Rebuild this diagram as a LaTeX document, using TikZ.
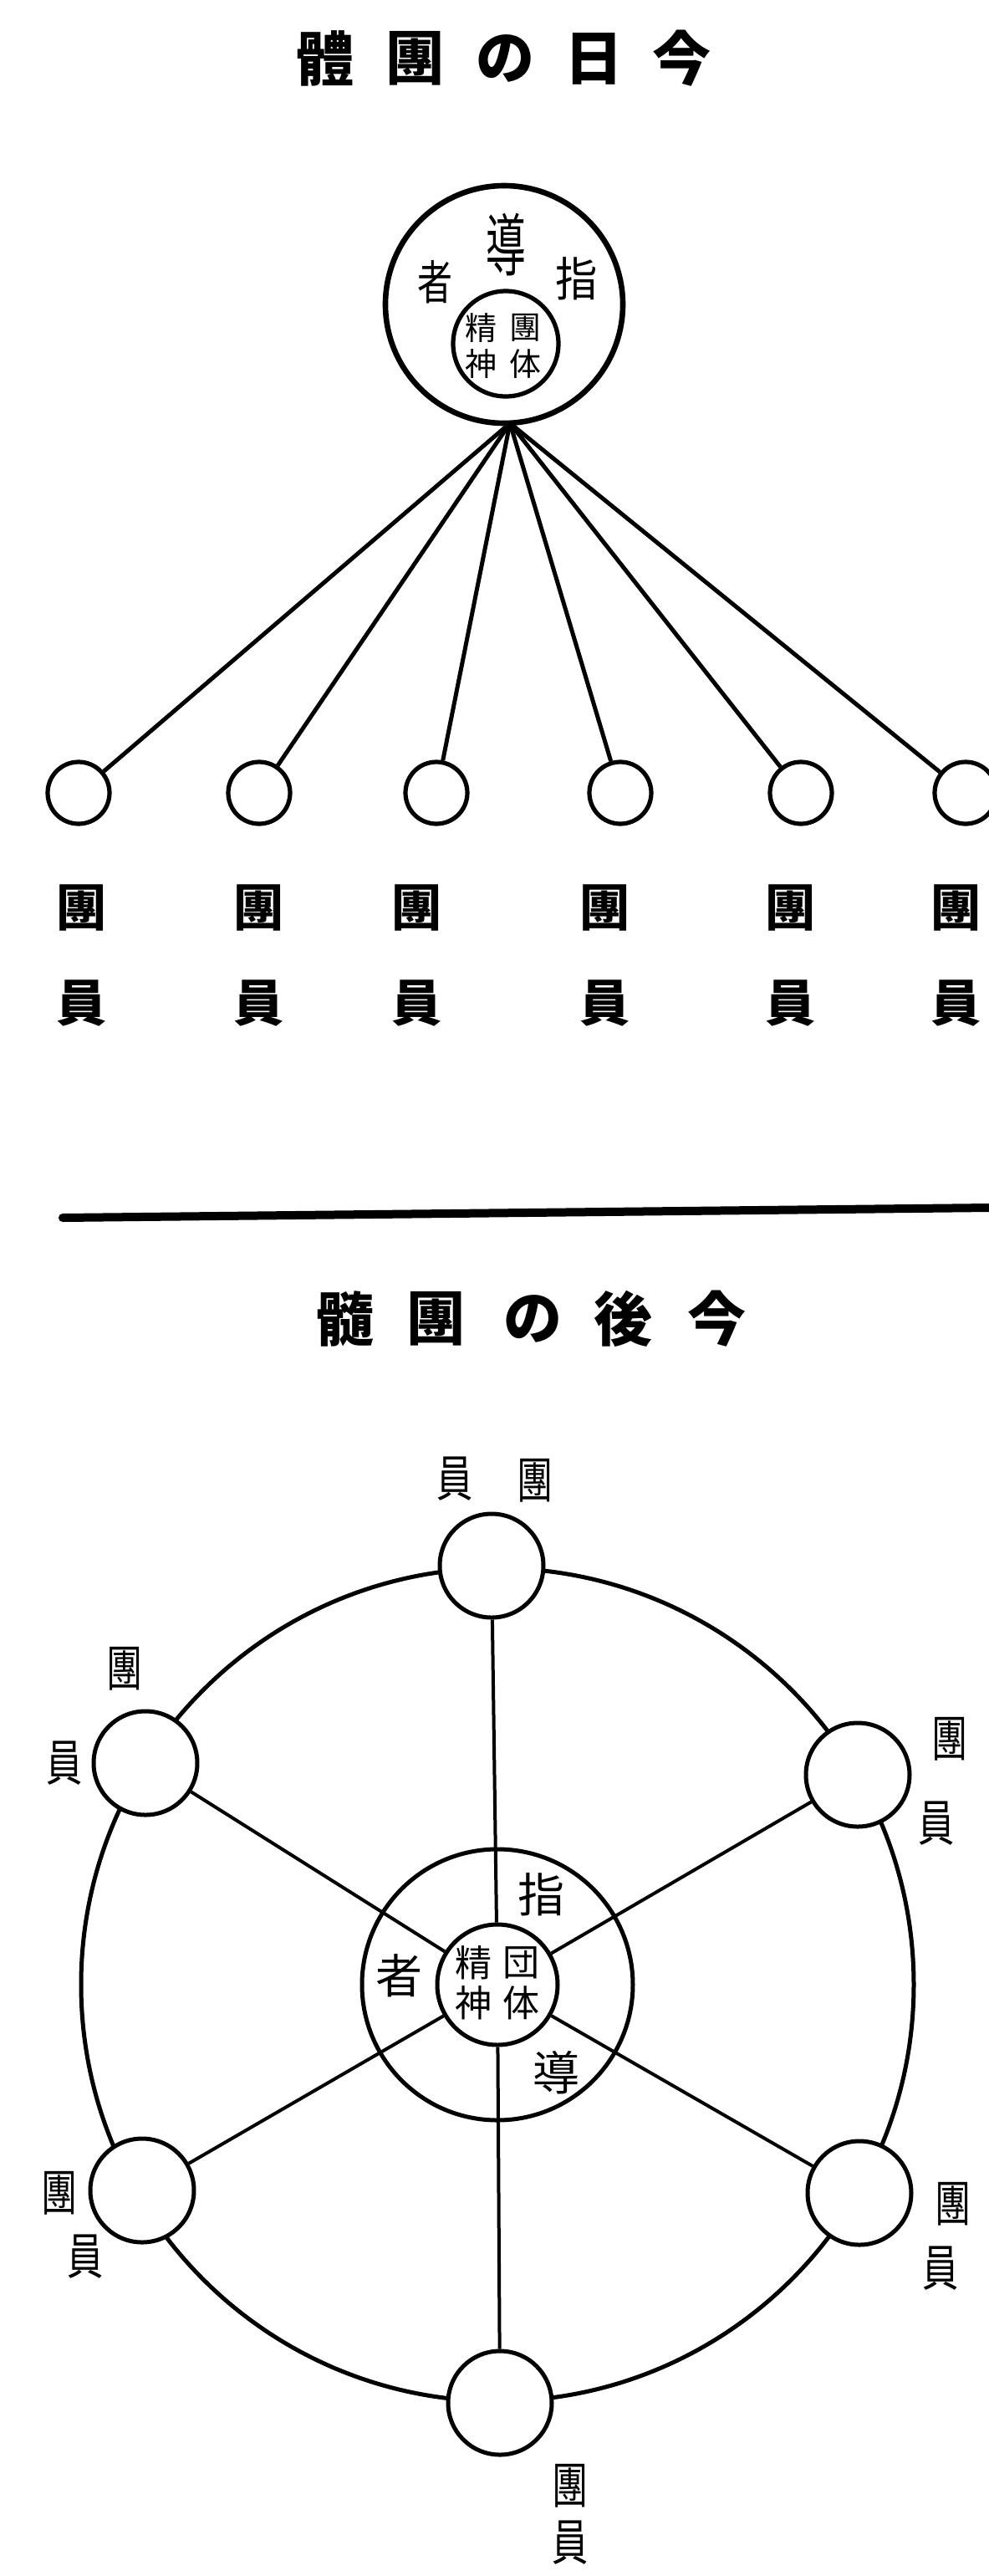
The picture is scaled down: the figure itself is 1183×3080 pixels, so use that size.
\documentclass[tikz,border=0pt]{standalone}
\usepackage{fontspec}
\newfontfamily\jp{Noto Sans CJK JP}
\newcommand{\nar}[1]{\scalebox{0.8}[1.1]{#1}}
\begin{document}
\begin{tikzpicture}[x=0.5pt,y=-0.5pt,
  ttl/.style={font=\jp\bfseries\fontsize{35}{35}\selectfont, inner sep=0},
  lab/.style={font=\jp\bfseries\fontsize{30}{30}\selectfont, inner sep=0},
  hand/.style={font=\jp\fontsize{28}{28}\selectfont, inner sep=0},
  tiny/.style={font=\jp\fontsize{19}{19}\selectfont, inner sep=0},
  small/.style={font=\jp\fontsize{22}{22}\selectfont, inner sep=0},
  mlab/.style={font=\jp\fontsize{27}{27}\selectfont, inner sep=0},
  member/.style={circle, draw, line width=2.6pt, minimum size=37pt, inner sep=0},
  bignode/.style={circle, draw, line width=2.5pt, minimum size=62pt, inner sep=0, fill=white},
  ln/.style={line width=2.5pt},
  thin/.style={line width=2pt}]
\fill[white] (0,0) rectangle (1183,3080);
\useasboundingbox (0,0) rectangle (1183,3080);

% ---------- top title ----------
\node[ttl] (t1a) at (388,70) {體};
\node[ttl] (t1b) at (496,70) {團};
\node[ttl] (t1c) at (604,70) {の};
\node[ttl] (t1d) at (710,70) {日};
\node[ttl] (t1e) at (815,70) {今};

% ---------- top leader circle ----------
\node[circle, draw, line width=3.3pt, minimum size=142pt, inner sep=0] (lead) at (603,364) {};
\node[circle, draw, line width=2.6pt, minimum size=63pt, inner sep=0] (spirit) at (605,411) {};
\node[hand] (la) at (520,337) {\scalebox{0.75}[1]{者}};
\node[hand] (lb) at (605,293) {\scalebox{0.85}[1.45]{導}};
\node[hand] (lc) at (690,333) {\scalebox{0.9}[1]{指}};
\node[tiny] (sa) at (575,392) {精};
\node[tiny] (sb) at (628,392) {團};
\node[tiny] (sc) at (575,435) {神};
\node[tiny] (sd) at (628,435) {体};

\coordinate (hub) at (610,506);
\foreach \i/\x in {1/94,2/310,3/522,4/742,5/958,6/1155}{
  \node[member] (m\i) at (\x,948) {};
  \draw[ln] (hub) -- (m\i);
}
\foreach \i/\x in {1/98,2/309,3/498,4/723,5/945,6/1143}{
  \node[lab] (ma\i) at (\x,1085) {團};
  \node[lab] (mb\i) at (\x,1200) {員};
}

% ---------- separator ----------
\coordinate (sepL) at (75,1456);
\coordinate (sepR) at (1183,1444);
\draw[line width=5pt, line cap=round] (sepL) -- (sepR);

% ---------- bottom title ----------
\node[ttl] (t2a) at (412,1577) {髓};
\node[ttl] (t2b) at (521,1577) {團};
\node[ttl] (t2c) at (637,1577) {の};
\node[ttl] (t2d) at (745,1577) {後};
\node[ttl] (t2e) at (857,1577) {今};

% ---------- bottom ring ----------
\coordinate (C) at (595,2373);
\draw[ln] (C) circle[radius=498];
\node[circle, draw, line width=2.5pt, minimum size=162pt, inner sep=0] (mid) at (C) {};
\node[circle, draw, line width=2.5pt, minimum size=72pt, inner sep=0] (core) at (C) {};

\node[bignode] (n90)  at (588,1872) {};
\node[bignode] (n30)  at (1026,2122) {};
\node[bignode] (n330) at (1028,2622) {};
\node[bignode] (n270) at (598,2873) {};
\node[bignode] (n210) at (170,2619) {};
\node[bignode] (n150) at (174,2108) {};

\foreach \n in {n90,n30,n330,n270,n210,n150}{
  \draw[thin] (core) -- (\n);
}

\node[hand] (ra) at (647,2265) {指};
\node[hand] (rb) at (477,2362) {者};
\node[hand] (rc) at (665,2478) {導};
\node[small] (ca) at (566,2347) {精};
\node[small] (cb) at (623,2347) {団};
\node[small] (cc) at (566,2395) {神};
\node[small] (cd) at (623,2395) {体};

% member labels
\node[mlab] (p1a) at (544,1768) {\nar{員}};
\node[mlab] (p1b) at (640,1770) {\nar{團}};
\node[mlab] (p2a) at (149,1995) {\nar{團}};
\node[mlab] (p2b) at (77,2108) {\nar{員}};
\node[mlab] (p3a) at (1136,2079) {\nar{團}};
\node[mlab] (p3b) at (1120,2180) {\nar{員}};
\node[mlab] (p4a) at (71,2622) {\nar{團}};
\node[mlab] (p4b) at (102,2698) {\nar{員}};
\node[mlab] (p5a) at (1140,2635) {\nar{團}};
\node[mlab] (p5b) at (1125,2712) {\nar{員}};
\node[mlab] (p6a) at (682,2972) {\nar{團}};
\node[mlab] (p6b) at (682,3040) {\nar{員}};
\end{tikzpicture}
\end{document}
